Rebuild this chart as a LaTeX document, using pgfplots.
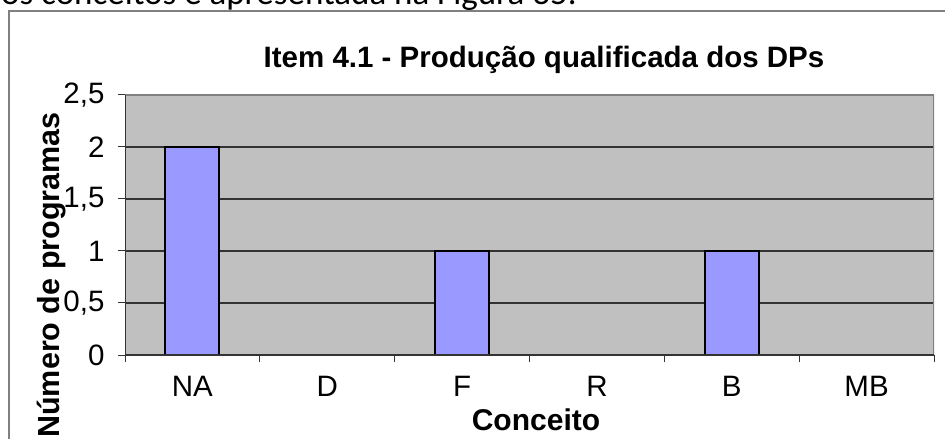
\documentclass[border=0pt]{standalone}
\usepackage{pgfplots}
\pgfplotsset{compat=1.18}
\usepackage{fontspec}
\setmainfont{Liberation Sans}
\newfontfamily\docfont{Carlito}
\definecolor{plotbg}{HTML}{C0C0C0}
\definecolor{barfill}{HTML}{9999FF}
\definecolor{framegray}{HTML}{808080}
\definecolor{gridgray}{HTML}{333333}

\begin{document}
\begin{tikzpicture}[x=1pt,y=1pt]
\useasboundingbox (0,0) rectangle (945,439);
\clip (0,0) rectangle (945,439);
% document text above the chart, cut at the top edge
\node[anchor=base west, inner sep=0, font=\docfont\fontsize{35}{40}\selectfont]
  at (1,434) {os conceitos é apresentada na Figura 35.};
% chart frame
\draw[framegray, line width=1.5pt] (9,-20) -- (9,428) -- (970,428);

\begin{axis}[
    at={(125pt,84pt)}, anchor=south west,
    scale only axis, width=809pt, height=260pt,
    xmin=-0.5, xmax=5.5, ymin=0, ymax=2.5,
    ybar, bar width=0.4,
    axis background/.style={fill=plotbg},
    axis line style={draw=none},
    xtick pos=bottom, ytick pos=left,
    xtick={0,...,5},
    xticklabels={NA,D,F,R,B,MB},
    major x tick style={draw=none},
    minor xtick={-0.5,0.5,...,5.5},
    ytick={0,0.5,1,1.5,2,2.5},
    ymajorgrids,
    grid style={gridgray, line width=1.2pt},
    tick align=outside,
    major tick length=7pt, minor tick length=7pt,
    tick style={gridgray, line width=1pt},
    tick label style={font=\fontsize{29.5}{33}\selectfont},
    xticklabel style={yshift=-11pt},
    yticklabel style={xshift=-10pt, /pgf/number format/.cd, fixed, use comma},
    /pgf/number format/assume math mode=true,
]
\addplot[fill=barfill, draw=black, line width=2pt]
  coordinates {(0,2) (1,0) (2,1) (3,0) (4,1) (5,0)};
\draw[framegray, line width=1.5pt] (rel axis cs:0,1) -- (rel axis cs:1,1) -- (rel axis cs:1,0);
\draw[gridgray, line width=1.5pt] (rel axis cs:0,1) -- (rel axis cs:0,0) -- (rel axis cs:1,0);
\end{axis}

\node[anchor=base, font=\bfseries\fontsize{29.5}{33}\selectfont]
  at (544,371) {Item 4.1 - Produção qualificada dos DPs};
\node[anchor=base, font=\bfseries\fontsize{30}{34}\selectfont]
  at (536,9) {Conceito};
\node[anchor=base, rotate=90, font=\bfseries\fontsize{30.5}{34}\selectfont]
  at (59,164) {Número de programas};
\end{tikzpicture}
\end{document}
